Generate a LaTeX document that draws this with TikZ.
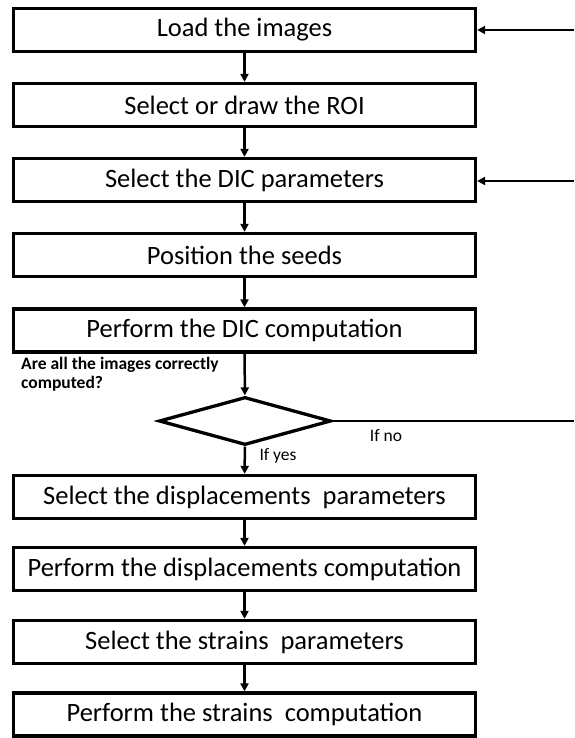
\documentclass[tikz,border=0pt]{standalone}
\usepackage{fontspec}
\setmainfont{Carlito}
\usetikzlibrary{arrows.meta,shapes.geometric}
\begin{document}
\begin{tikzpicture}[x=1pt,y=-1pt,
  stepbox/.style={draw,line width=3.3pt,minimum width=462pt,minimum height=43pt,inner sep=0pt,font=\fontsize{26.5}{30}\selectfont},
  flow/.style={line width=2.5pt,-{Triangle[length=8pt,width=8pt]}},
  plainline/.style={line width=2.5pt},
  decision/.style={draw,diamond,line width=3.3pt,minimum width=172pt,minimum height=48pt,inner sep=0pt,aspect=3.6},
  small/.style={font=\fontsize{17.5}{19.5}\selectfont,inner sep=0pt}]
\useasboundingbox (0,0) rectangle (574,738);
\node[stepbox] (b1) at (244.5,30) {Load the images};
\node[stepbox] (b2) at (244.5,105) {Select or draw the ROI};
\node[stepbox] (b3) at (244.5,180) {Select the DIC parameters};
\node[stepbox] (b4) at (244.5,255) {Position the seeds};
\node[stepbox] (b5) at (244.5,330.5) {Perform the DIC computation};
\node[decision] (d) at (245,421) {};
\node[stepbox] (b6) at (244.5,497) {Select the displacements\ \ parameters};
\node[stepbox] (b7) at (244.5,569) {Perform the displacements computation};
\node[stepbox] (b8) at (244.5,642) {Select the strains\ \ parameters};
\node[stepbox] (b9) at (244.5,714.5) {Perform the strains\ \ computation};
\node[small,font=\bfseries\fontsize{17.5}{19.5}\selectfont,align=left,anchor=north west] (q) at (21,357) {Are all the images correctly\\computed?};
\node[small] (no) at (386,436) {If no};
\node[small] (yes) at (278,456) {If yes};
\coordinate (r1) at (574,30);
\coordinate (r3) at (574,181);
\coordinate (rd) at (574,421);
\draw[flow] (b1) -- (b2);
\draw[flow] (b2) -- (b3);
\draw[flow] (b3) -- (b4);
\draw[flow] (b4) -- (b5);
\draw[flow] (b5) -- (d);
\draw[flow] (d) -- (b6);
\draw[flow] (b6) -- (b7);
\draw[flow] (b7) -- (b8);
\draw[flow] (b8) -- (b9);
\draw[plainline] (d.east) -- (rd);
\draw[flow] (r1) -- (b1.east);
\draw[flow] (r3) -- (b3.east |- r3);
\end{tikzpicture}
\end{document}
